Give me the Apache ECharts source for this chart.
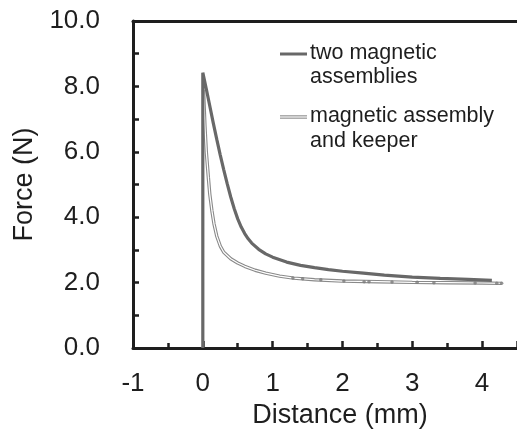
<!DOCTYPE html>
<html>
<head>
<meta charset="utf-8">
<script src="https://cdn.jsdelivr.net/npm/echarts@6/dist/echarts.min.js"></script>
<style>
  html, body { margin: 0; padding: 0; background: #fff; }
  #chart { width: 517px; height: 434px; }
</style>
</head>
<body>
<div id="chart"></div>
<script>
// Force vs. distance for two magnet configurations
const seriesNames = ['two magnetic assemblies', 'magnetic assembly and keeper'];

// [distance (mm), force (N)]
const twoAssemblies = [
  [0.00, 0.00], [0.00, 8.42], [0.05, 7.92], [0.10, 7.40], [0.15, 6.88],
  [0.20, 6.38], [0.25, 5.90], [0.30, 5.45], [0.35, 5.02], [0.40, 4.62],
  [0.45, 4.26], [0.50, 3.95], [0.55, 3.70], [0.60, 3.50], [0.65, 3.34],
  [0.70, 3.21], [0.80, 3.02], [0.90, 2.88], [1.00, 2.78], [1.20, 2.63],
  [1.40, 2.53], [1.60, 2.46], [1.80, 2.40], [2.00, 2.35], [2.30, 2.29],
  [2.60, 2.23], [3.00, 2.17], [3.40, 2.13], [3.80, 2.10], [4.14, 2.07]
];

const assemblyKeeper = [
  [0.01, 7.90], [0.03, 6.80], [0.05, 6.00], [0.08, 5.20], [0.10, 4.70],
  [0.13, 4.20], [0.16, 3.80], [0.20, 3.42], [0.25, 3.12], [0.30, 2.93],
  [0.40, 2.73], [0.50, 2.60], [0.60, 2.50], [0.75, 2.38], [0.90, 2.29],
  [1.10, 2.20], [1.30, 2.14], [1.60, 2.09], [2.00, 2.05], [2.50, 2.03],
  [3.00, 2.01], [3.50, 2.00], [4.00, 1.99], [4.28, 1.98]
];

// measured sample points along the keeper curve tail
const keeperSamples = [
  [1.29, 2.14], [1.43, 2.12], [1.69, 2.09], [2.02, 2.05], [2.31, 2.03],
  [2.38, 2.03], [2.71, 2.02], [3.07, 2.01], [3.31, 2.00], [3.90, 1.99],
  [4.21, 1.98], [4.28, 1.98]
];

const xTicks = [-1, 0, 1, 2, 3, 4];
const yTicks = ['0.0', '2.0', '4.0', '6.0', '8.0', '10.0'];

const FONT = '"Liberation Sans", Arial, sans-serif';
const INK = '#1e1e1e';

const chart = echarts.init(document.getElementById('chart'), null, { renderer: 'canvas' });

const axisLineStyle = { color: INK, width: 3 };

chart.setOption({
  animation: false,
  backgroundColor: '#fff',
  grid: { left: 133, top: 21, width: 386, height: 328, containLabel: false },
  xAxis: [{
    type: 'value', min: -1, max: 4.5, interval: 1,
    name: 'Distance (mm)', nameLocation: 'middle', nameGap: 49,
    nameTextStyle: { fontFamily: FONT, fontSize: 27, color: INK, padding: [0, 0, 0, 30] },
    axisLine: { show: true, onZero: false, lineStyle: axisLineStyle },
    axisTick: { show: true, inside: true, length: 7, lineStyle: { color: INK, width: 2.5 } },
    minorTick: { show: true, splitNumber: 2, length: 5, lineStyle: { color: INK, width: 2.5 } },
    splitLine: { show: false },
    axisLabel: {
      fontFamily: FONT, fontSize: 26, color: INK, margin: 23,
      showMaxLabel: false,
      formatter: v => (xTicks.indexOf(v) >= 0 ? String(v) : '')
    }
  }, {
    type: 'value', min: -1, max: 4.5, position: 'top',
    axisLine: { show: true, onZero: false, lineStyle: axisLineStyle },
    axisTick: { show: false }, axisLabel: { show: false }, splitLine: { show: false }
  }],
  yAxis: {
    type: 'value', min: 0, max: 10, interval: 2,
    name: 'Force (N)', nameLocation: 'middle', nameGap: 93,
    nameTextStyle: { fontFamily: FONT, fontSize: 27, color: INK },
    axisLine: { show: true, onZero: false, lineStyle: axisLineStyle },
    axisTick: { show: true, inside: true, length: 6, lineStyle: { color: INK, width: 2.5 } },
    minorTick: { show: true, splitNumber: 2, length: 6, lineStyle: { color: INK, width: 2.5 } },
    splitLine: { show: false },
    axisLabel: {
      fontFamily: FONT, fontSize: 26, color: INK, margin: 33,
      formatter: v => yTicks[Math.round(v / 2)]
    }
  },
  series: [
    {
      name: seriesNames[0], type: 'line', data: twoAssemblies,
      showSymbol: false, z: 4,
      lineStyle: { color: '#686868', width: 3.2 }
    },
    {
      // outer stroke of the hollow line
      name: seriesNames[1], type: 'line', data: assemblyKeeper,
      showSymbol: false, z: 2,
      lineStyle: { color: '#8a8a8a', width: 3.4 }
    },
    {
      // inner white core of the hollow line
      name: seriesNames[1] + ' core', type: 'line', data: assemblyKeeper,
      showSymbol: false, z: 3,
      lineStyle: { color: '#ffffff', width: 1.2 }
    },
    {
      name: seriesNames[1] + ' samples', type: 'scatter', data: keeperSamples,
      symbol: 'circle', symbolSize: 3.5, z: 3,
      itemStyle: { color: '#7a7a7a' }
    }
  ],
  graphic: [
    { type: 'line', shape: { x1: 280, y1: 54, x2: 307, y2: 54 }, style: { stroke: '#686868', lineWidth: 3 } },
    { type: 'text', left: 310, top: 41, style: { text: 'two magnetic\nassemblies', font: '21.5px ' + FONT, fill: INK, lineHeight: 24 } },
    { type: 'line', shape: { x1: 280, y1: 117, x2: 307, y2: 117 }, style: { stroke: '#8a8a8a', lineWidth: 3.4 } },
    { type: 'line', shape: { x1: 280, y1: 117, x2: 307, y2: 117 }, style: { stroke: '#ffffff', lineWidth: 1.2 } },
    { type: 'text', left: 310, top: 104, style: { text: 'magnetic assembly\nand keeper', font: '21.5px ' + FONT, fill: INK, lineHeight: 25 } }
  ]
});
</script>
</body>
</html>
